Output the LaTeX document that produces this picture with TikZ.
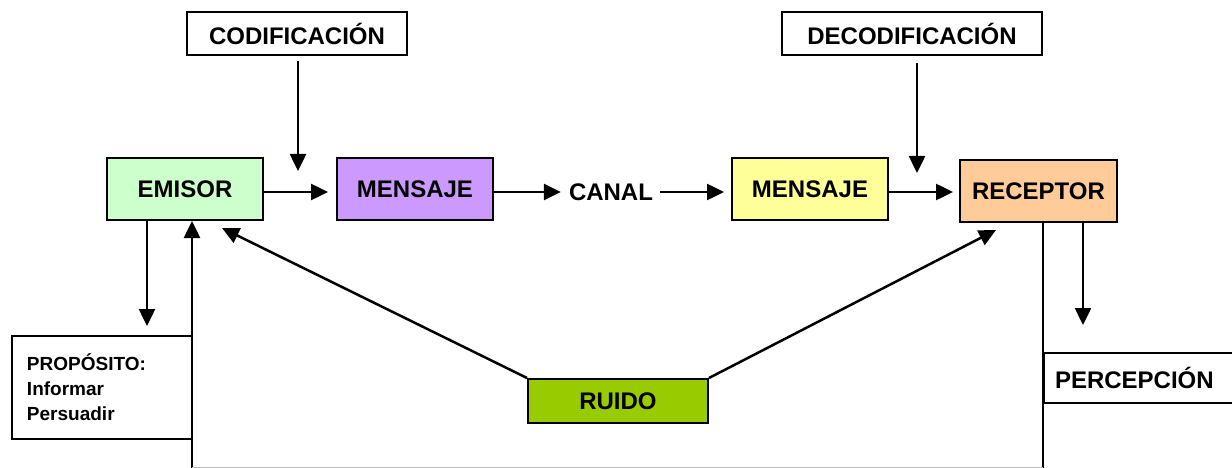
\documentclass[tikz,border=0pt]{standalone}
\usepackage{fontspec}
\setmainfont{Liberation Sans}
\usetikzlibrary{arrows.meta}
\definecolor{emisorfill}{HTML}{CCFFCC}
\definecolor{mensajefillA}{HTML}{CC99FF}
\definecolor{mensajefillB}{HTML}{FFFF99}
\definecolor{receptorfill}{HTML}{FFCC99}
\definecolor{ruidofill}{HTML}{99CC00}
\begin{document}
\begin{tikzpicture}[x=1pt,y=-1pt,
  box/.style={draw=black, line width=2pt, inner sep=0pt,
    font=\fontsize{24}{28}\selectfont\bfseries, align=center},
  stagebox/.style={box, minimum width=156pt, minimum height=62pt},
  labelbox/.style={box, minimum height=43pt},
  tip/.style={Triangle[length=17pt,width=16pt]},
  arr/.style={line width=2.5pt, -{Triangle[length=17pt,width=16pt]}},
  link/.style={line width=2.5pt},
  baseline/.style={line width=1pt, black!25}]
\useasboundingbox (0,0) rectangle (1232,468);

% main chain
\node[stagebox, fill=emisorfill]   (emisor)   at (185,189)  {EMISOR};
\node[stagebox, fill=mensajefillA] (mensajeA) at (415,189)  {MENSAJE};
\node[font=\fontsize{24}{28}\selectfont\bfseries, inner sep=0pt] (canal) at (611,192) {CANAL};
\node[stagebox, fill=mensajefillB] (mensajeB) at (810,189)  {MENSAJE};
\node[stagebox, fill=receptorfill, minimum width=157pt] (receptor) at (1038.5,191) {RECEPTOR};

% coding / decoding labels
\node[labelbox, minimum width=220pt] (codif)   at (297,33.5) {CODIFICACIÓN};
\node[labelbox, minimum width=260pt] (decodif) at (912,33.5) {DECODIFICACIÓN};

% noise
\node[box, fill=ruidofill, minimum width=180pt, minimum height=44pt] (ruido) at (618,401) {RUIDO};

% purpose and perception
\node[box, minimum height=103pt, text width=150pt, inner xsep=15pt, align=left,
      font=\fontsize{19}{25}\selectfont\bfseries] (proposito) at (102,387.5)
      {PROPÓSITO:\\Informar\\Persuadir};
\node[box, anchor=west, minimum height=50pt, text width=171pt, inner xsep=11pt, align=left]
      (percepcion) at (1043,378) {PERCEPCIÓN};

% free ends
\coordinate (codtip)   at (298,171);
\coordinate (dectip)   at (917,173);
\coordinate (proptip)  at (147,326);
\coordinate (perctip)  at (1083,325);
\coordinate (noiseL)   at (222,228);
\coordinate (noiseR)   at (996,230);
\coordinate (loopL)    at (192,468);
\coordinate (loopR)    at (1043,468);

% chain arrows
\draw[arr, shorten >=8pt] ([yshift=-3pt]emisor.east) -- ([yshift=-3pt]mensajeA.west);
\draw[arr, shorten >=8pt] (mensajeA.east |- canal.west) -- (canal.west);
\draw[arr, shorten <=7pt, shorten >=7pt] (canal.east) -- (canal.east -| mensajeB.west);
\draw[arr, shorten >=6pt] ([yshift=-3pt]mensajeB.east) -- ([yshift=-3pt]mensajeB.east -| receptor.west);

% coding arrows
\draw[arr] ([yshift=-5pt]codif.south -| codtip) -- (codtip);
\draw[arr] ([yshift=-7pt]decodif.south -| dectip) -- (dectip);

% purpose and perception arrows
\draw[arr] (emisor.south -| proptip) -- (proptip);
\draw[arr] (receptor.south -| perctip) -- (perctip);

% noise arrows
\draw[arr] (ruido.north west) -- (noiseL);
\draw[arr] (ruido.north east) -- (noiseR);

% feedback loop
\draw[link, {Triangle[length=17pt,width=16pt]}-] (emisor.south -| loopL) -- (loopL);
\draw[link] (receptor.south -| loopR) -- (loopR);
\draw[baseline] ([yshift=1pt]loopL) -- ([yshift=1pt]loopR);
\end{tikzpicture}
\end{document}
